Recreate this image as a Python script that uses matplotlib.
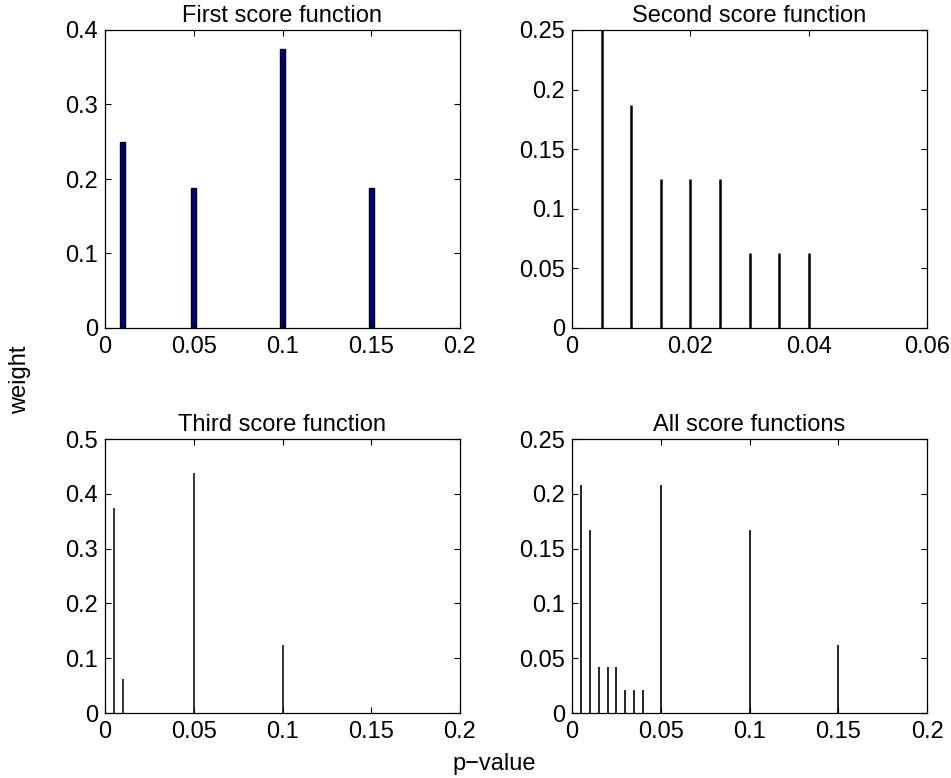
import matplotlib
matplotlib.use("Agg")
import matplotlib.pyplot as plt
from matplotlib.ticker import FuncFormatter

plt.rcParams['font.family'] = ['Liberation Sans', 'DejaVu Sans']

# First score function
p1 = [0.01, 0.05, 0.1, 0.15]
w1 = [0.25, 0.1875, 0.375, 0.1875]

# Second score function
p2 = [0.005, 0.01, 0.015, 0.02, 0.025, 0.03, 0.035, 0.04]
w2 = [0.25, 0.1875, 0.125, 0.125, 0.125, 0.0625, 0.0625, 0.0625]

# Third score function
p3 = [0.005, 0.01, 0.05, 0.1]
w3 = [0.375, 0.0625, 0.4375, 0.125]

# All score functions
p4 = [0.005, 0.01, 0.015, 0.02, 0.025, 0.03, 0.035, 0.04, 0.05, 0.1, 0.15]
w4 = [0.2083, 0.1667, 0.0417, 0.0417, 0.0417, 0.0208, 0.0208, 0.0208,
      0.2083, 0.1667, 0.0625]


def fmt(v, pos):
    s = ('%.4f' % v).rstrip('0').rstrip('.')
    return s if s else '0'


fig = plt.figure(figsize=(9.51, 7.78), dpi=100)
FW, FH = 951.0, 778.0


def box(l, t, r, b):
    return [l / FW, 1 - b / FH, (r - l) / FW, (b - t) / FH]


ax1 = fig.add_axes(box(105, 30, 460, 328))
ax2 = fig.add_axes(box(572, 30, 927, 328))
ax3 = fig.add_axes(box(105, 439, 460, 713))
ax4 = fig.add_axes(box(572, 439, 927, 713))

ax1.bar(p1, w1, width=0.0026, color='#00008f', edgecolor='black', linewidth=1.0)
# the narrow bars come out as plain vertical strokes
ax2.vlines(p2, 0, w2, colors='black', linewidth=1.8)
ax3.vlines(p3, 0, w3, colors='black', linewidth=1.1)
ax4.vlines(p4, 0, w4, colors='black', linewidth=1.2)

setup = [
    (ax1, 'First score function', 0.2, 0.05, 0.4, 0.1),
    (ax2, 'Second score function', 0.06, 0.02, 0.25, 0.05),
    (ax3, 'Third score function', 0.2, 0.05, 0.5, 0.1),
    (ax4, 'All score functions', 0.2, 0.05, 0.25, 0.05),
]
for ax, title, xm, xs, ym, ys in setup:
    ax.set_xlim(0, xm)
    ax.set_ylim(0, ym)
    nx = int(round(xm / xs))
    ny = int(round(ym / ys))
    ax.set_xticks([i * xs for i in range(nx + 1)])
    ax.set_yticks([i * ys for i in range(ny + 1)])
    ax.xaxis.set_major_formatter(FuncFormatter(fmt))
    ax.yaxis.set_major_formatter(FuncFormatter(fmt))
    ax.tick_params(direction='in', top=True, right=True, length=4,
                   labelsize=17, width=0.8)
    ax.tick_params(axis='x', pad=6)
    ax.tick_params(axis='y', pad=5)
    ax.set_title(title, fontsize=17, pad=6)
    for s in ax.spines.values():
        s.set_linewidth(0.9)

fig.text(20 / FW, 1 - 380 / FH, 'weight', rotation=90, fontsize=17,
         ha='center', va='center')
fig.text(494 / FW, 1 - 764 / FH, 'p\u2212value', fontsize=17,
         ha='center', va='center')

fig.savefig('out.png', dpi=100)
